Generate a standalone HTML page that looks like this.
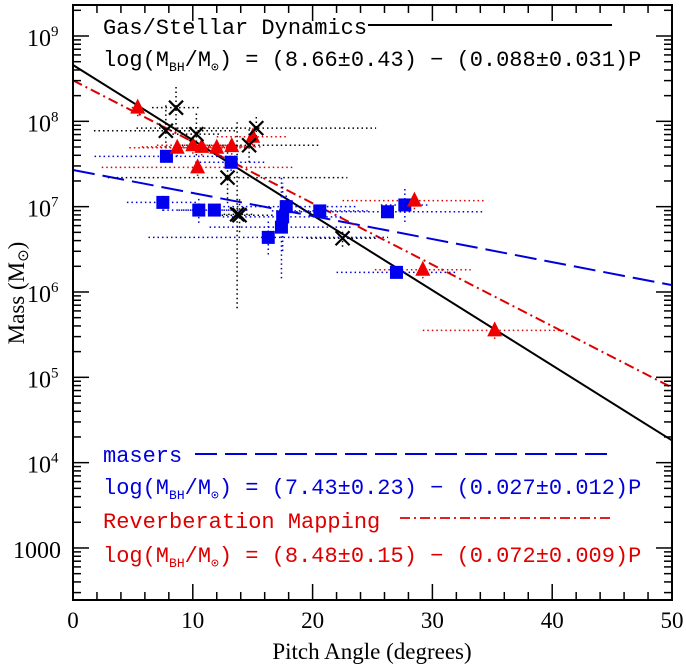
<!DOCTYPE html>
<html><head><meta charset="utf-8"><style>
html,body{margin:0;padding:0;background:#fff;}
svg{display:block;}
text{font-family:"Liberation Serif",serif;}
.m{font-family:"Liberation Mono",monospace;}
</style></head><body>
<svg id="chart" width="686" height="664" viewBox="0 0 686 664" xmlns="http://www.w3.org/2000/svg">
<g id="grid"></g>
<g id="fits"></g>
<g id="errs"></g>
<g id="pts"></g>
<rect x="73" y="5" width="599" height="595" fill="none" stroke="#000" stroke-width="2"/>
<g id="axes"></g>
<g>
<text class="m" x="103" y="34" fill="#000" font-size="22">Gas/Stellar Dynamics</text>
<line x1="368" y1="25" x2="612" y2="25" stroke="#000" stroke-width="2"/>
<text class="m" x="103" y="66" fill="#000" font-size="22">log(M<tspan font-size="13" dy="5">BH</tspan><tspan dy="-5">/M</tspan><tspan font-size="13" dy="5">⊙</tspan><tspan dy="-5">) = (8.66±0.43) − (0.088±0.031)P</tspan></text>
</g>
<g>
<text class="m" x="103" y="462" fill="#0000dd" font-size="22">masers</text>
<line x1="195" y1="454" x2="612" y2="454" stroke="#0000dd" stroke-width="2" stroke-dasharray="22,8"/>
<text class="m" x="103" y="494" fill="#0000dd" font-size="22">log(M<tspan font-size="13" dy="5">BH</tspan><tspan dy="-5">/M</tspan><tspan font-size="13" dy="5">⊙</tspan><tspan dy="-5">) = (7.43±0.23) − (0.027±0.012)P</tspan></text>
</g>
<g>
<text class="m" x="103" y="528" fill="#dd0000" font-size="22">Reverberation Mapping</text>
<line x1="400" y1="518" x2="612" y2="518" stroke="#dd0000" stroke-width="1.8" stroke-dasharray="10,4,2,4"/>
<text class="m" x="103" y="562" fill="#dd0000" font-size="22">log(M<tspan font-size="13" dy="5">BH</tspan><tspan dy="-5">/M</tspan><tspan font-size="13" dy="5">⊙</tspan><tspan dy="-5">) =  (8.48±0.15) − (0.072±0.009)P</tspan></text>
</g>
<text x="372" y="659" font-size="23" text-anchor="middle">Pitch Angle (degrees)</text>
<text transform="translate(24,293) rotate(-90)" font-size="23" text-anchor="middle">Mass (M<tspan font-size="15" dy="4">⊙</tspan><tspan dy="-4">)</tspan></text>
</svg>
<script>
// data
const xTicks=[0,10,20,30,40,50];
const yTickExp=[3,4,5,6,7,8,9];
const yTickLabels=["1000","10","10","10","10","10","10"];
const yTickSup=["","4","5","6","7","8","9"];
const gasX=[8.6,7.75,10.3,15.3,14.7,12.9,13.7,13.9,22.5];
const gasLogM=[8.16,7.89,7.85,7.92,7.72,7.34,6.91,6.90,6.63];
const gasXErr=[2,6,2,10,6,10,1.5,3,3];
const gasYErr=[0.25,0.3,0.25,0.15,0.2,0.3,1.1,0.2,0.1];
const rmX=[5.4,8.7,10.0,10.75,10.4,12.0,13.25,15.0,28.5,29.2,35.2];
const rmLogM=[8.16,7.69,7.72,7.70,7.46,7.69,7.71,7.82,7.07,6.26,5.55];
const rmXErr=[0.5,4,3,5,8,3,2,3,6,4,6];
const rmYErr=[0.1,0.1,0.1,0.1,0.1,0.1,0.1,0.1,0.1,0.1,0.1];
const mX=[7.8,13.2,7.5,10.5,11.8,17.8,17.5,17.4,16.3,20.6,26.25,27.7,27.0];
const mLogM=[7.59,7.52,7.05,6.96,6.96,7.00,6.88,6.76,6.64,6.95,6.94,7.02,6.23];
const mXErr=[6,3,3,3,3,6,5,6,10,4,8,2,5];
const mYErr=[0.05,0.1,0.1,0.15,0.05,0.15,0.4,0.6,0.2,0.05,0.05,0.2,0.05];
const fitIntercepts=[8.66,7.43,8.48];
const fitSlopes=[-0.088,-0.027,-0.072];

const X0=73,X1=672,YT=5,YB=600;
const sx=v=>X0+(X1-X0)*v/50;
const sy=l=>36+(9-l)*85.33;
const NS='http://www.w3.org/2000/svg';
function mk(p,t,a){const e=document.createElementNS(NS,t);for(const k in a)e.setAttribute(k,a[k]);p.appendChild(e);return e;}
const axes=document.getElementById('axes');
for(let v=0;v<=50;v+=2){const maj=v%10===0;const x=sx(v);
 const t1=mk(axes,'line',{x1:x,x2:x,y1:YB,y2:YB-(maj?16:8),stroke:'#000','stroke-width':1.5});
 
 const t2=mk(axes,'line',{x1:x,x2:x,y1:YT,y2:YT+(maj?16:8),stroke:'#000','stroke-width':1.5});
 }
xTicks.forEach(v=>{const t=mk(axes,'text',{x:sx(v),y:628,'font-size':23,'text-anchor':'middle'});t.textContent=v;
 });
for(let d=2;d<=9;d++){for(let k=1;k<10;k++){const l=d+Math.log10(k);const y=sy(l);if(y<YT||y>YB)continue;const maj=k===1;
 const t1=mk(axes,'line',{x1:X0,x2:X0+(maj?16:8),y1:y,y2:y,stroke:'#000','stroke-width':1.5});
 
 const t2=mk(axes,'line',{x1:X1,x2:X1-(maj?16:8),y1:y,y2:y,stroke:'#000','stroke-width':1.5});
 }}
yTickExp.forEach((e,i)=>{const t=mk(axes,'text',{x:61,y:sy(e)+10,'font-size':24,'text-anchor':'end'});
 
 if(yTickSup[i]){t.setAttribute('x',27);t.setAttribute('text-anchor','start');t.textContent=yTickLabels[i];const s=mk(t,'tspan',{dy:-10,'font-size':15});s.textContent=yTickSup[i];}
 else t.textContent=yTickLabels[i];});
const fits=document.getElementById('fits');
const fitCols=['#000','#0000dd','#dd0000'],fitDash=['none','22,8','10,4,2,4'],fitNames=['gas-stellar-fit-line','masers-fit-line','reverberation-fit-line'];
fitIntercepts.forEach((a,i)=>{const b=fitSlopes[i];
 const l=mk(fits,'line',{x1:sx(0),y1:sy(a),x2:sx(50),y2:sy(a+b*50),stroke:fitCols[i],'stroke-width':2,'stroke-dasharray':fitDash[i]});
 });
const errs=document.getElementById('errs'),pts=document.getElementById('pts');
function eb(xs,ys,xe,ye,col){xs.forEach((x,i)=>{
 const h=mk(errs,'line',{x1:sx(x-xe[i]),x2:sx(x+xe[i]),y1:sy(ys[i]),y2:sy(ys[i]),stroke:col,'stroke-width':1.5,'stroke-dasharray':'1.5,3'});
 
 const v=mk(errs,'line',{x1:sx(x),x2:sx(x),y1:sy(ys[i]-ye[i]),y2:sy(ys[i]+ye[i]),stroke:col,'stroke-width':1.5,'stroke-dasharray':'1.5,3'});
 });}
eb(gasX,gasLogM,gasXErr,gasYErr,'#000');eb(rmX,rmLogM,rmXErr,rmYErr,'#dd0000');eb(mX,mLogM,mXErr,mYErr,'#0000dd');
mX.forEach((x,i)=>{const r=mk(pts,'rect',{x:sx(x)-6.5,y:sy(mLogM[i])-6.5,width:13,height:13,fill:'#0000ee'});
 });
rmX.forEach((x,i)=>{const cx=sx(x),cy=sy(rmLogM[i]);
 const p=mk(pts,'polygon',{points:`${cx},${cy-9} ${cx-7.5},${cy+6} ${cx+7.5},${cy+6}`,fill:'#ee0000'});
 });
gasX.forEach((x,i)=>{const cx=sx(x),cy=sy(gasLogM[i]);
 const p=mk(pts,'path',{d:`M${cx-7},${cy-7}L${cx+7},${cy+7}M${cx-7},${cy+7}L${cx+7},${cy-7}`,stroke:'#000','stroke-width':2.2});
 });
</script>
</body></html>
